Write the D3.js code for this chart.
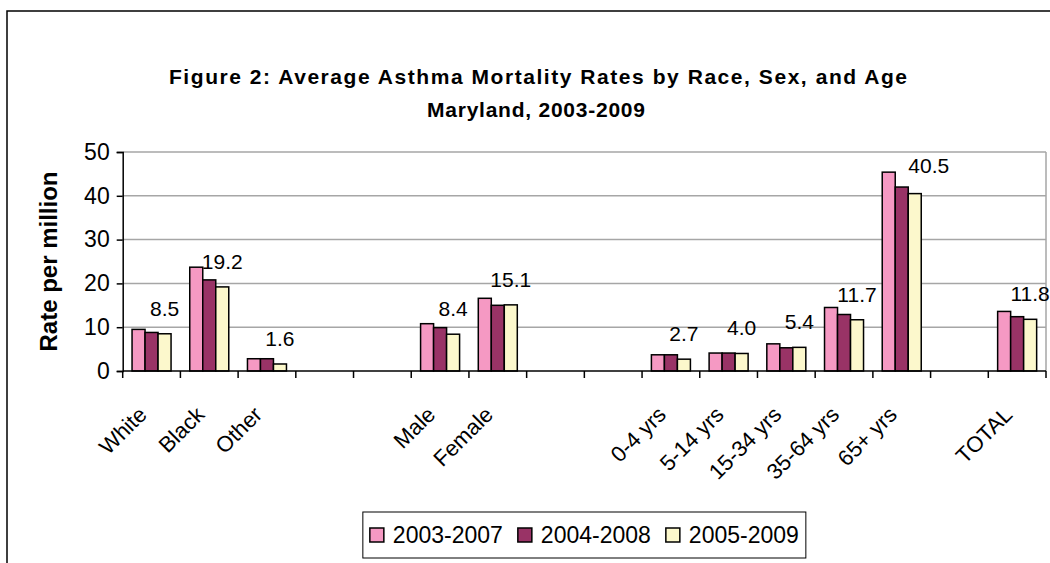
<!DOCTYPE html>
<html>
<head>
<meta charset="utf-8">
<script src="https://cdn.jsdelivr.net/npm/d3@7"></script>
<style>
  body { margin: 0; background: #fff; }
  text { font-family: "Liberation Sans", Arial, sans-serif; fill: #000; }
</style>
</head>
<body>
<svg id="chart" width="1050" height="563"></svg>
<script>
// chart values
const categories = ['White', 'Black', 'Other', '', '', 'Male', 'Female', '', '',
  '0-4 yrs', '5-14 yrs', '15-34 yrs', '35-64 yrs', '65+ yrs', '', 'TOTAL'];
const seriesNames = ['2003-2007', '2004-2008', '2005-2009'];
const rates0307 = [9.5, 23.7, 2.8, null, null, 10.8, 16.6, null, null, 3.7, 4.1, 6.2, 14.5, 45.4, null, 13.6];
const rates0408 = [8.8, 20.8, 2.8, null, null, 9.9, 15.0, null, null, 3.7, 4.1, 5.3, 12.9, 42.0, null, 12.4];
const rates0509 = [8.5, 19.2, 1.6, null, null, 8.4, 15.1, null, null, 2.7, 4.0, 5.4, 11.7, 40.5, null, 11.8];
const yTicks = [0, 10, 20, 30, 40, 50];

const colors = ['#f599c3', '#993366', '#fcf8cc'];
const allSeries = [rates0307, rates0408, rates0509];

const svg = d3.select('#chart');
const plot = { left: 122.7, right: 1046, top: 152, bottom: 371 };

// outer chart frame (runs off the picture on the right and bottom)
svg.append('rect')
    .attr('x', 7).attr('y', 11)
    .attr('width', 1060).attr('height', 570)
    .attr('fill', 'none')
    .attr('stroke', '#000')
    .attr('stroke-width', 1.5);

// title, spaced out like the original
const title = svg.append('g')
    .attr('text-anchor', 'middle')
    .attr('font-weight', 'bold')
    .attr('font-size', 21);
title.append('text').attr('x', 538).attr('y', 84)
    .attr('textLength', 738).attr('lengthAdjust', 'spacing')
    .text('Figure 2: Average Asthma Mortality Rates by Race, Sex, and Age');
title.append('text').attr('x', 536).attr('y', 117)
    .attr('textLength', 218).attr('lengthAdjust', 'spacing')
    .text('Maryland, 2003-2009');

const x0 = d3.scaleBand()
    .domain(d3.range(categories.length))
    .range([plot.left, plot.right])
    .padding(0);

const slot = x0.bandwidth();
const x1 = d3.scaleBand()
    .domain(d3.range(seriesNames.length))
    .range([slot * 0.162, slot * 0.838]);

const y = d3.scaleLinear()
    .domain([0, 50])
    .range([plot.bottom, plot.top]);

// gridlines
svg.append('g')
    .selectAll('line')
    .data(yTicks.filter(d => d > 0))
    .join('line')
      .attr('x1', plot.left).attr('x2', plot.right)
      .attr('y1', d => y(d)).attr('y2', d => y(d))
      .attr('stroke', '#a6a6a6')
      .attr('stroke-width', 1.5);

// right border of plot area
svg.append('line')
    .attr('x1', plot.right).attr('x2', plot.right)
    .attr('y1', plot.top).attr('y2', plot.bottom)
    .attr('stroke', '#a6a6a6')
    .attr('stroke-width', 1.5);

// bars
const groups = svg.append('g')
  .selectAll('g')
  .data(allSeries)
  .join('g')
    .attr('fill', (d, i) => colors[i]);

groups.each(function (values, si) {
  d3.select(this).selectAll('rect')
    .data(values.map((v, ci) => ({ v: v, ci: ci })).filter(d => d.v !== null))
    .join('rect')
      .attr('x', d => x0(d.ci) + x1(si))
      .attr('y', d => y(d.v))
      .attr('width', x1.bandwidth())
      .attr('height', d => y(0) - y(d.v))
      .attr('stroke', '#000')
      .attr('stroke-width', 1.5);
});

// data labels on the latest period
svg.append('g')
  .selectAll('text')
  .data(rates0509.map((v, ci) => ({ v: v, ci: ci })).filter(d => d.v !== null))
  .join('text')
    .attr('text-anchor', 'middle')
    .attr('font-size', 21)
    .attr('x', d => x0(d.ci) + x1(2) + x1.bandwidth() / 2 + (categories[d.ci] === '65+ yrs' ? 14 : 0))
    .attr('y', d => y(d.v) - 18 - (categories[d.ci] === '65+ yrs' ? 3 : 0))
    .text(d => d.v.toFixed(1));

// y axis
const yAxis = svg.append('g')
    .attr('transform', 'translate(' + plot.left + ',0)')
    .call(d3.axisLeft(y).tickValues(yTicks).tickSize(6).tickPadding(7).tickFormat(d3.format('d')));
yAxis.select('.domain').attr('stroke-width', 1.5);
yAxis.selectAll('.tick line').attr('stroke-width', 1.5);
yAxis.selectAll('.tick text')
    .attr('font-size', 23)
    .attr('font-family', '"Liberation Sans", Arial, sans-serif');

// x axis: ticks on slot boundaries
const xAxis = svg.append('g')
    .attr('transform', 'translate(0,' + plot.bottom + ')');
xAxis.append('line')
    .attr('x1', plot.left).attr('x2', plot.right)
    .attr('stroke', '#000').attr('stroke-width', 1.5);
xAxis.selectAll('.tk')
  .data(d3.range(categories.length + 1))
  .join('line')
    .attr('class', 'tk')
    .attr('x1', i => plot.left + i * slot).attr('x2', i => plot.left + i * slot)
    .attr('y1', 0).attr('y2', 7)
    .attr('stroke', '#000').attr('stroke-width', 1.5);

svg.append('g')
  .selectAll('text')
  .data(categories.map((c, i) => ({ c: c, i: i })).filter(d => d.c !== ''))
  .join('text')
    .attr('text-anchor', 'end')
    .attr('font-size', 22)
    .attr('transform', d => 'translate(' + (x0(d.i) + slot / 2 - 3.5) + ',416) rotate(-45)')
    .text(d => d.c);

// y axis title
svg.append('text')
    .attr('text-anchor', 'middle')
    .attr('font-weight', 'bold')
    .attr('font-size', 24)
    .attr('transform', 'translate(57,' + ((plot.top + plot.bottom) / 2) + ') rotate(-90)')
    .text('Rate per million');

// legend
const legend = svg.append('g');
const legendBox = legend.append('rect')
    .attr('fill', '#fff')
    .attr('stroke', '#000')
    .attr('stroke-width', 1);
let cursor = 7;
seriesNames.forEach((name, i) => {
  legend.append('rect')
      .attr('x', cursor).attr('y', 16)
      .attr('width', 14).attr('height', 14)
      .attr('fill', colors[i])
      .attr('stroke', '#000').attr('stroke-width', 1.5);
  const t = legend.append('text')
      .attr('x', cursor + 23).attr('y', 31)
      .attr('font-size', 23)
      .text(name);
  cursor += 23 + t.node().getComputedTextLength() + 15;
});
const legendW = cursor - 15 + 7;
legendBox.attr('x', 0).attr('y', 0).attr('width', legendW).attr('height', 46);
legend.attr('transform', 'translate(' + ((plot.left + plot.right) / 2 - legendW / 2) + ',512)');
</script>
</body>
</html>
